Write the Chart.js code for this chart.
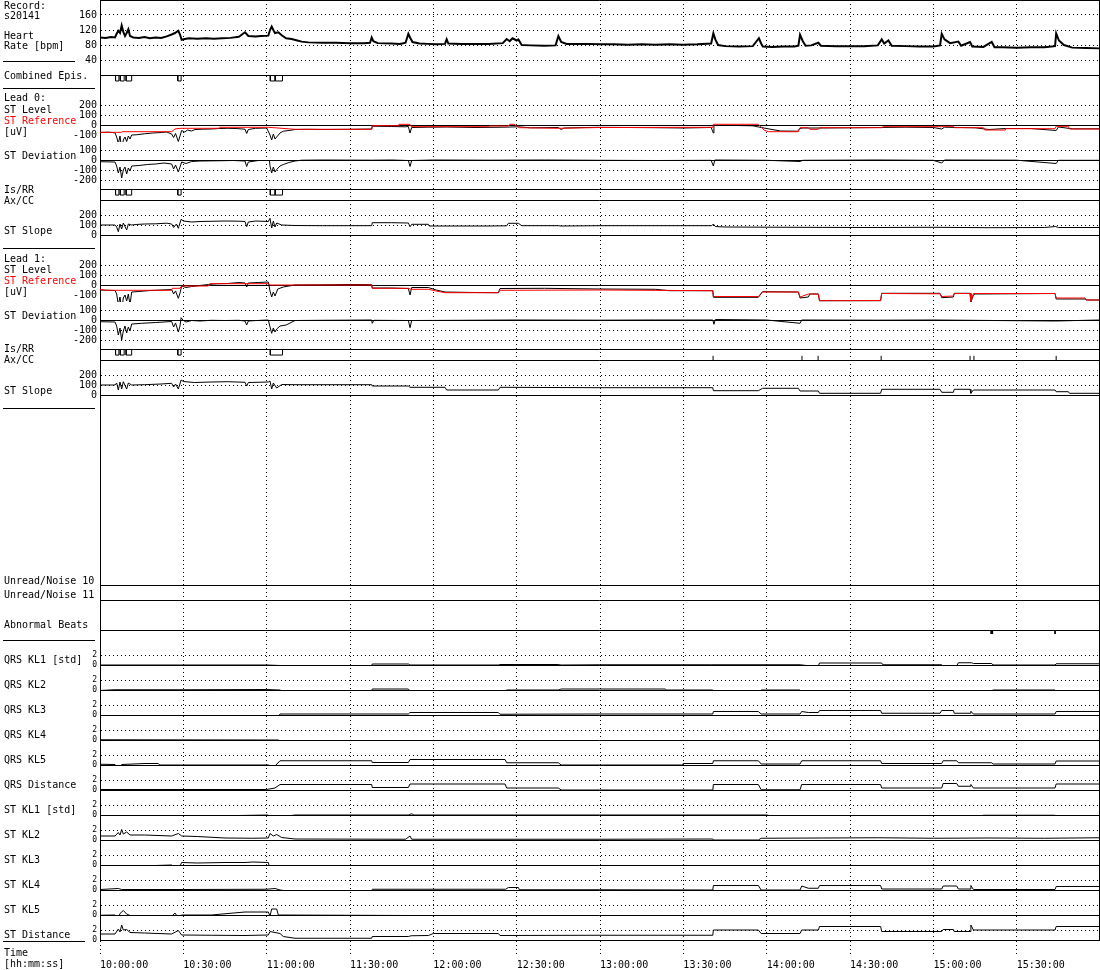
<!DOCTYPE html>
<html>
<head>
<meta charset="utf-8">
<script src="https://cdn.jsdelivr.net/npm/chart.js@4.4.1/dist/chart.umd.min.js"></script>
<style>
body { margin: 0; background: #fff; }
#wrap { position: relative; width: 1100px; height: 970px; font-family: 'DejaVu Sans Mono', monospace; font-size: 10px; }
#c { position: absolute; left: 0; top: 0; }
.lbl { position: absolute; left: 4px; line-height: 10px; white-space: pre; color: #000; }
.sep { position: absolute; height: 1px; background: #000; }
</style>
</head>
<body>
<div id="wrap"><canvas id="c" width="1100" height="970"></canvas></div>
<script>
// time is minutes after 10:00:00
const timeTicks = [0, 30, 60, 90, 120, 150, 180, 210, 240, 270, 300, 330];
const timeLabels = ['10:00:00', '10:30:00', '11:00:00', '11:30:00', '12:00:00', '12:30:00',
  '13:00:00', '13:30:00', '14:00:00', '14:30:00', '15:00:00', '15:30:00'];
const hrTicks = [40, 80, 120, 160];
const stLevelTicks = [200, 100, 0, -100];
const stDevTicks = [100, 0, -100, -200];
const slopeTicks = [200, 100, 0];
const klTicks = [2, 0];

const heartRate = [[0,100],[2,99],[4,101],[5.4,100],[6,110],[6.6,118],[7.2,112],[7.8,132],[8.4,115],[9,104],[9.6,112],[10.2,122],[10.8,104],[12,100],[14,99],[16,101],[18,98],[20,100],[22,99],[24,103],[25.8,108],[27,112],[28.2,118],[28.8,108],[29.4,94],[30.5,96],[32,98],[35,97],[38,98],[41,97],[44,98],[47,99],[50,102],[52.2,114],[53.4,104],[56,103],[58,104],[60.6,105],[61.2,120],[61.8,129],[62.4,120],[63,112],[64.2,114],[65.4,106],[67,98],[69,96],[71,92],[72.6,89],[75,87],[80,86],[85,86],[90,85],[95,85],[97.2,86],[97.8,100],[98.4,90],[100,85],[105,84],[108,83],[110,86],[111,110],[111.6,100],[112.5,88],[115,84],[118,83],[121,82],[124.2,83],[124.8,95],[125.4,84],[130,83],[135,83],[140,83],[145,85],[146.4,96],[147.5,90],[148.5,98],[150,92],[150.6,95],[151.8,80],[155,79],[160,78],[164,79],[165,104],[166,88],[168,83],[172,83],[176,83],[180,82],
  [185,82],[190,81],[195,82],[200,81],[205,82],[210,81],[215,82],[220,84],[220.8,111],[221.5,95],[222.5,80],[225,77],[230,76],[235,77],[237.2,98],[238,84],[238.6,76],[242,75],[246,76],[250,76],[251.4,78],[252,107],[253,90],[254,78],[256,79],[258.6,86],[259.5,78],[265,77],[270,77],[275,77],[280,79],[281.4,95],[282.3,84],[283.8,92],[285,78],[290,77],[295,76],[300,76],[302.4,79],[303,110],[304,95],[306,85],[309,89],[310,78],[313.2,88],[314,76],[318,75],[321,88],[322,74],[325,74],[330,73],[335,74],[340,74],[343.8,77],[344.2,111],[345.2,92],[347,80],[350,73],[355,72],[359.8,71]];

const combinedEpis = [[5.6,6.8],[7.3,8.7],[9.4,11.4],[28,29.2],[61.3,63],[63.1,65.7]];
const isrrLead0 = [[5.6,6.8],[7.3,8.7],[9.4,11.4],[28,29.2],[61.3,63],[63.1,65.7]];
const isrrLead1 = [[5.6,6.8],[7.3,8.7],[9.4,11.4],[28,29.2],[61.3,65.7]];
const axccLead1 = [220.7, 252.7, 258.5, 281.2, 313.2, 314.6, 344.2];
const abnormalBeats = [320.8, 321.3, 343.8];

const stRef0 = [[0,-73],[7.8,-73],[8,-67],[25.8,-67],[27,-40],[28.8,-33],[42.6,-33],[43,-23],[60.6,-23],[70.2,-43],[97.8,-43],[98,-7],[107.4,-7],[107.6,7],[111.6,7],[112,-17],[139.8,-17],[140,-10],[147,-10],[147.5,7],[149,7],[151,-27],[165,-33],[180,-25],
  [220.6,-23],[220.8,7],[237,7],[239,-50],[240.6,-67],[251.4,-67],[252,-27],[255,-27],[255.5,-43],[258.6,-43],[259,-27],[281.4,-27],[282,-17],[303,-17],[303.5,-13],[307.2,-13],[307.5,-27],[318,-27],[318.5,-50],[325.8,-50],[326,-37],[343.8,-37],[344.2,-13],[348.6,-13],[349,-40],[359.8,-40]];
const stLevel0 = [[0,-75],[3,-72],[5.4,-78],[6,-120],[6.6,-185],[7.2,-110],[7.8,-245],[8.4,-150],[9,-120],[9.6,-165],[10.2,-110],[10.8,-140],[11.4,-100],[13,-98],[16,-88],[19,-80],[22,-75],[24,-70],[25.8,-90],[26.5,-125],[27.2,-85],[28.2,-165],[28.8,-110],[29.4,-55],[30.5,-70],[31.5,-50],[33,-60],[34.2,-45],[37,-42],[40,-40],[43,-35],[46,-33],[49,-35],[52.2,-42],[52.8,-85],[53.4,-45],[56,-33],[60,-30],[61.2,-100],[61.8,-150],[62.4,-90],[63,-140],[63.6,-120],[64.8,-80],[66,-62],[68,-55],[70.2,-45],[75,-43],[80,-45],[90,-43],[97.8,-40],[98,-12],[105,-15],[110,-18],[111,-15],[111.6,-80],[112.2,-25],[118,-22],[125,-20],[135,-25],[145,-22],[150.6,-18],[155,-28],[165,-25],[166,-45],[167,-30],[175,-25],[180,-23],
  [190,-25],[200,-27],[210,-30],[220,-25],[220.8,-80],[221,-5],[225,-3],[235,-8],[238,-25],[245,-60],[251,-62],[252,-35],[253,-30],[260,-30],[270,-28],[280,-25],[290,-22],[300,-25],[303,-40],[304,-22],[315,-28],[320,-45],[326,-35],[335,-35],[344.2,-55],[345,-20],[350,-38],[359.8,-38]];
const stDev0 = [[0,-17],[5.4,-20],[6,-60],[6.6,-130],[7.2,-70],[7.8,-180],[8.4,-100],[9,-70],[9.6,-140],[10.2,-80],[10.8,-110],[11.4,-60],[14,-55],[17,-45],[20,-40],[23,-30],[25.8,-40],[26.5,-90],[27.2,-50],[28.2,-120],[28.8,-70],[29.4,-20],[31,-35],[33,-15],[36,-10],[42,-8],[48,-5],[52.2,-10],[52.8,-65],[53.4,-20],[57,-5],[61,-5],[61.2,-60],[61.8,-130],[62.4,-70],[63,-120],[63.6,-95],[64.8,-60],[66,-45],[68,-25],[70.2,-10],[72.6,-2],[80,0],[97.8,-2],[105,0],[111,-5],[111.6,-65],[112.2,-5],[120,0],[140,-2],[160,0],[180,-3],
  [200,-5],[220,-3],[220.8,-60],[221.3,0],[240,-3],[252,-15],[253,-3],[280,0],[300,-3],[303,-30],[304,0],[330,-2],[344.2,-35],[345,-3],[359.8,-3]];
const stSlope0 = [[0,100],[5.4,100],[6,80],[6.6,33],[7.2,110],[7.8,60],[8.4,120],[9.6,50],[10.2,110],[11.4,100],[13,105],[16,110],[20,112],[24,118],[25.8,110],[26.5,75],[27.5,110],[28.2,67],[29.2,157],[30,140],[33,130],[36,135],[40,137],[45,140],[50,138],[52.2,135],[52.8,83],[53.4,130],[56,140],[60.6,135],[61.2,167],[61.8,70],[62.4,140],[63,80],[63.6,120],[65.4,100],[70.2,95],[80,93],[97.8,93],[98,123],[105,123],[111,120],[111.6,83],[112.2,107],[118.2,107],[118.5,90],[140,90],[146.4,92],[147,117],[150.6,117],[151.8,93],[165,93],[166,90],[180,93],
  [220.2,93],[220.8,110],[221.5,85],[225,80],[240,78],[260,76],[280,75],[300,77],[320,73],[340,75],[344,85],[345,75],[359.8,75]];

const stRef1 = [[0,-43],[2,-53],[25.8,-53],[26,-33],[28.8,-33],[29.4,-10],[39,-10],[39.5,13],[60.6,13],[61.2,0],[97.8,0],[98,-33],[111,-33],[112,-43],[118.2,-43],[121,-60],[124.2,-77],[143.4,-77],[144,-53],[180,-50],
  [220.6,-57],[220.8,-115],[237,-115],[238.5,-70],[251.4,-70],[252,-120],[253,-110],[255,-90],[258.6,-90],[259,-157],[281,-155],[281.4,-85],[302.4,-88],[303,-115],[307.2,-110],[307.5,-85],[313.2,-85],[313.5,-165],[314.4,-85],[343.8,-85],[344.2,-130],[354.6,-130],[355,-150],[359.8,-150]];
const stLevel1 = [[0,-50],[5.4,-55],[6,-90],[6.6,-200],[7.2,-120],[7.8,-250],[8.4,-130],[9,-100],[9.6,-160],[10.2,-90],[10.8,-200],[11.4,-70],[14,-65],[18,-55],[22,-50],[25.8,-45],[26.5,-90],[27.2,-60],[28.2,-133],[28.8,-80],[29.4,-10],[31,-25],[33,-15],[36,-5],[39,5],[42,12],[46,15],[50,25],[52.2,20],[52.8,-20],[53.4,20],[57,25],[60.6,30],[61.2,-60],[61.8,-120],[62.4,-70],[63,-110],[64,-40],[66,-20],[68,-10],[70.2,0],[80,2],[90,5],[97.8,3],[98,-30],[105,-30],[111,-35],[111.6,-100],[112.2,-25],[118.2,-25],[121,-50],[124.2,-70],[135,-75],[143.4,-77],[144,-35],[160,-33],[180,-40],
  [200,-43],[205,-57],[220.6,-57],[220.8,-123],[237,-123],[238.5,-67],[251.4,-70],[252,-130],[255,-120],[255.5,-90],[258.6,-90],[259,-157],[281,-157],[281.4,-83],[302.4,-83],[303,-127],[307.2,-120],[307.5,-83],[313.2,-83],[313.5,-173],[314.4,-100],[315,-90],[343.8,-85],[344.2,-140],[354.6,-140],[355,-150],[359.8,-150]];
const stDev1 = [[0,-17],[5.4,-20],[6,-60],[6.6,-150],[7.2,-80],[7.8,-200],[8.4,-110],[9,-60],[9.6,-130],[10.2,-70],[10.8,-110],[11.4,-40],[15,-33],[20,-25],[25.8,-15],[26.5,-70],[27.2,-30],[28.2,-120],[28.8,-60],[29.2,23],[30,-5],[31,-20],[33,-5],[36,-10],[40,-3],[45,-5],[50,-3],[52.2,-10],[52.8,-50],[53.4,-10],[58,-3],[60.6,0],[61.2,-70],[61.8,-133],[62.4,-80],[63,-120],[63.6,-90],[64.8,-60],[67,-50],[70.2,-5],[80,-3],[97.8,0],[98,-33],[98.6,-3],[111,-5],[111.6,-77],[112.2,-5],[130,-3],[150,0],[180,-2],
  [200,0],[220.6,0],[221,-43],[221.5,5],[240,0],[252,-33],[252.6,0],[280,-2],[300,0],[344,-10],[359.8,0]];
const stSlope1 = [[0,100],[5.4,100],[6,120],[6.6,50],[7.2,130],[7.8,60],[8.4,133],[9.6,60],[10.2,120],[11.4,100],[16,103],[22,110],[25.8,117],[26.5,80],[27.2,110],[28.2,60],[29.2,150],[30,135],[34,125],[40,130],[46,133],[52.2,127],[52.8,90],[53.4,125],[60.6,130],[61.2,140],[61.8,60],[62.4,120],[63.6,70],[65.4,105],[70.2,103],[97.8,103],[98,90],[111,90],[111.6,77],[124.2,77],[124.8,50],[143.4,50],[144,77],[180,73],
  [220.6,73],[220.8,43],[237,43],[238.5,67],[251.4,67],[252,40],[258.6,40],[259,17],[281,17],[281.4,57],[302.4,57],[303,27],[307.2,27],[307.5,57],[313.2,57],[313.5,17],[314.4,50],[343.8,50],[344.2,33],[348.6,33],[349,17],[359.8,17]];

const qrsKL1 = [[0,0],[60,0],[64.8,-0.1],[65.4,-0.25],[97.8,-0.25],[98,0.2],[111,0.2],[111.6,0],[143.4,0],[144,0.1],[165,0.1],[166,0],[180,0.05],[220,0.05],[252,0.05],[255,-0.15],[258.6,-0.15],[259,0.4],[281.4,0.4],[281.8,0.05],[303,0.05],[303.5,-0.35],[308.4,-0.2],[309,0.45],[313.8,0.45],[314.4,0.3],[321,0.3],[321.5,0],[343.8,0],[344.2,0.25],[359.8,0.25]];
const qrsKL2 = [[0,-0.1],[5,0.05],[30,0.05],[60,0.1],[64.8,0],[65.4,-0.2],[97.8,-0.2],[98,0.2],[111,0.2],[111.6,-0.2],[145.8,-0.2],[146.4,0],[165,0],[166,0.2],[180,0.2],[203.4,0.2],[204,0],[220.6,0],[220.8,-0.5],[237,-0.5],[238,0],[252,0],[252.6,-0.5],[281,-0.5],[281.4,-0.15],[303,-0.15],[303.5,-0.7],[308.4,-0.6],[309,-0.3],[313.8,-0.2],[321,-0.15],[321.5,0],[343.8,0],[344.2,-0.3],[359.8,-0.3]];
const qrsKL3 = [[0,-0.15],[30,-0.15],[60,-0.1],[63,-0.5],[64.2,-0.4],[64.8,0.2],[111,0.2],[111.6,0.5],[143.4,0.5],[144,0.15],[180,0.2],[220.6,0.2],[220.8,0.7],[237,0.7],[238,0.2],[252,0.2],[252.6,0.7],[255,0.5],[258.6,0.5],[259,0.9],[281,0.9],[281.4,0.35],[302.4,0.35],[303,0.9],[307.2,0.9],[307.5,0.35],[313.2,0.35],[313.5,0.75],[314.4,0.2],[343.8,0.2],[344.2,0.7],[359.8,0.7]];
const qrsKL4 = [[0,0.05],[64.2,0],[64.8,-0.3],[111,-0.3],[111.6,-0.5],[145.8,-0.5],[146.4,-0.25],[180,-0.2],[220.6,-0.15],[220.8,-0.45],[237,-0.45],[238,-0.25],[252,-0.25],[252.6,-0.5],[258.6,-0.5],[259,-0.65],[281,-0.65],[281.4,-0.15],[303,-0.15],[303.5,-0.65],[309,-0.65],[309.5,-0.15],[343.8,-0.15],[344.2,-0.45],[359.8,-0.45]];
const qrsKL5 = [[0,0.15],[5.4,0.1],[6.6,-0.7],[7.8,0.1],[16.2,0.3],[21,0.3],[21.5,0],[60.6,0],[61.8,-0.35],[63,-0.2],[64.8,0.85],[97.8,0.85],[98,0.5],[111,0.5],[111.6,1.1],[145.8,1.1],[146.4,0.45],[165,0.45],[166,0],[209.4,0],[210,0.3],[220.6,0.3],[220.8,0.85],[237,0.85],[238,0.2],[252,0.2],[252.6,0.85],[281,0.85],[281.4,0.3],[303,0.3],[303.5,0.85],[308.4,0.85],[309,0.45],[321,0.45],[321.5,0.2],[343.8,0.2],[344.2,0.8],[359.8,0.8]];
const qrsDistance = [[0,0.1],[60,0.1],[63,0.4],[64.8,1.1],[97.8,1.1],[98,0.5],[111,0.5],[111.6,1.2],[145.8,1.2],[146.4,0.4],[165,0.4],[166,0],[220.6,0],[220.8,1.1],[237,1.1],[238,0.05],[252,0.05],[252.6,1.1],[281,1.1],[281.4,0.4],[303,0.4],[303.5,1.3],[308.4,1.3],[309,0.75],[313.2,0.75],[313.5,1.1],[314.4,0.4],[343.8,0.4],[344.2,1.2],[359.8,1.2]];
const stKL1 = [[0,-0.8],[5.4,-0.8],[6.6,-1.4],[7.2,-0.7],[7.8,-1.9],[8.4,-1.0],[9.6,-1.3],[10.8,-0.8],[16,-0.8],[22,-0.6],[28.2,-0.5],[29.4,-0.35],[40,-0.2],[50,-0.1],[60.6,0],[61.2,-0.6],[62.4,-0.9],[63.6,-0.5],[66,-0.3],[70.2,0],[111,0],[112.2,0.25],[113,0],[240,0],[241,-0.1],[269.4,-0.1],[270,-0.4],[298.2,-0.4],[299,-0.1],[313.8,-0.1],[314.4,-0.25],[317.4,-0.25],[318,-0.05],[343.8,-0.05],[344.2,-0.25],[359.8,-0.2]];
const stKL2 = [[0,0.8],[5.4,0.8],[6.6,1.5],[7.2,1.0],[7.8,2.1],[8.4,1.2],[9.6,1.6],[10.8,1.0],[16,1.0],[25.8,0.8],[28.2,1.3],[29.4,0.8],[35,0.7],[45,0.4],[55,0.35],[60.6,0.4],[61.2,1.3],[62.4,0.8],[63.6,1.1],[65.4,0.5],[70.2,0.2],[110,0.15],[111.6,0.8],[112.2,0.15],[180,0.15],[220.6,0.2],[220.8,0],[237,0],[238,0.35],[260,0.4],[280,0.45],[300,0.35],[320,0.4],[340,0.35],[359.8,0.45]];
const stKL3 = [[0,-0.1],[5.4,-0.1],[6.6,-1.0],[7.2,-0.3],[7.8,-1.3],[8.4,-0.5],[9.6,-0.9],[11,-0.2],[20,-0.1],[25.8,0],[27,-0.5],[28.2,-0.9],[29.4,0.5],[35,0.4],[45,0.5],[52.2,0.5],[55,0.6],[60.6,0.5],[61.2,-0.8],[62.4,-0.3],[63.6,-0.6],[65.4,-0.2],[70.2,-0.1],[97.8,-0.1],[98,-0.4],[118.2,-0.4],[120,-0.9],[143.4,-0.9],[144,-0.5],[180,-0.6],[200,-0.65],[220.6,-0.7],[220.8,-1.6],[237,-1.6],[238,-0.9],[252,-0.9],[252.6,-1.3],[255,-1.5],[258.6,-1.5],[259,-2.1],[281,-2.1],[281.4,-0.9],[303,-0.9],[303.5,-1.6],[307.2,-1.4],[307.5,-1.1],[313.2,-1.1],[313.5,-2.1],[314.4,-0.9],[343.8,-0.9],[344.2,-1.9],[359.8,-1.9]];
const stKL4 = [[0,0.1],[6.6,0.3],[7.8,0.1],[30,0.1],[60,0.15],[63,0.3],[64.8,0],[70.2,-0.45],[97.8,-0.45],[98,0.15],[146,0.15],[147,0.5],[150.6,0.5],[151,0.05],[180,0.05],[220.6,0],[220.8,0.9],[237,0.9],[238,0],[252,0],[252.6,0.8],[255,0.35],[258.6,0.35],[259,0.9],[281,0.9],[281.4,0.2],[303,0.2],[303.5,0.8],[308.4,0.8],[309,0.2],[313.2,0.2],[313.5,0.9],[314.4,0.1],[343.8,0.1],[344.2,0.7],[359.8,0.7]];
const stKL5 = [[0,-0.05],[5.4,0],[6.6,-0.6],[7.2,0.3],[8.4,0.9],[9.6,0.2],[11.4,-0.25],[25.8,-0.25],[27,0.4],[28.2,-0.6],[29.4,0],[40,0],[52.2,0.6],[60.6,0.6],[61.2,-0.2],[61.8,1.2],[63.6,1.2],[64.2,0],[111,-0.1],[112,-0.45],[220.6,-0.45],[220.8,-0.8],[237,-0.8],[238,-1.1],[252,-1.1],[252.6,-0.8],[258.6,-0.8],[259,-1.1],[343.8,-1.1],[344.2,-1.3],[359.8,-1.3]];
const stDistance = [[0,1.2],[5.4,1.2],[6.6,2.2],[7.2,1.6],[7.8,3.0],[8.4,2.0],[9.6,2.1],[10.8,1.5],[16,1.4],[25.8,1.2],[28.2,1.9],[29.4,1.0],[40,0.95],[52.2,0.9],[60.6,1.0],[61.2,1.7],[63,1.5],[64.8,1.3],[66,0.7],[70.2,0.35],[97.8,0.35],[98,0.7],[111,0.7],[112,0.85],[118.2,0.9],[120,1.3],[143.4,1.3],[144,0.9],[180,0.95],[220.6,0.95],[220.8,2.0],[237,2.0],[238,1.3],[252,1.3],[252.6,2.0],[258.6,2.0],[259,2.7],[281,2.7],[281.4,1.7],[303,1.7],[303.5,2.1],[307.2,2.1],[307.5,1.7],[313.2,1.7],[313.5,3.0],[314.4,2.0],[343.8,2.0],[344.2,2.7],[359.8,2.7]];

// left column texts: [text, centre y, colour]
const sideLabels = [
  ['Record:', 6], ['s20141', 16], ['Heart', 36], ['Rate [bpm]', 46], ['Combined Epis.', 76],
  ['Lead 0:', 98], ['ST Level', 110], ['ST Reference', 121, '#f00'], ['[uV]', 132], ['ST Deviation', 156],
  ['Is/RR', 190], ['Ax/CC', 201], ['ST Slope', 231],
  ['Lead 1:', 259], ['ST Level', 270], ['ST Reference', 281, '#f00'], ['[uV]', 292], ['ST Deviation', 316],
  ['Is/RR', 349], ['Ax/CC', 360], ['ST Slope', 391],
  ['Unread/Noise 10', 581], ['Unread/Noise 11', 595], ['Abnormal Beats', 625],
  ['QRS KL1 [std]', 660], ['QRS KL2', 685], ['QRS KL3', 710], ['QRS KL4', 735], ['QRS KL5', 760], ['QRS Distance', 785],
  ['ST KL1 [std]', 810], ['ST KL2', 835], ['ST KL3', 860], ['ST KL4', 885], ['ST KL5', 910], ['ST Distance', 935],
  ['Time', 953], ['[hh:mm:ss]', 964]
];
const sideRules = [[61, 3, 75], [88, 3, 95], [248, 3, 95], [408, 3, 95], [640, 3, 95], [941, 3, 85]];

const wrap = document.getElementById('wrap');
sideLabels.forEach(([t, y, col]) => {
  const d = document.createElement('div');
  d.className = 'lbl';
  d.textContent = t;
  d.style.top = (y - 5) + 'px';
  if (col) d.style.color = col;
  wrap.appendChild(d);
});
sideRules.forEach(([y, x1, x2]) => {
  const d = document.createElement('div');
  d.className = 'sep';
  d.style.top = y + 'px';
  d.style.left = x1 + 'px';
  d.style.width = (x2 - x1) + 'px';
  wrap.appendChild(d);
});

// panel rows from top to bottom, h = share of the plot height
const rows = [
  {id: 'hr', h: 75, min: 0, max: 200, ticks: hrTicks, top: true},
  {id: 'comb', h: 13, min: 0, max: 1, rev: true, top: true},
  {id: 'lev0', h: 54, min: -170, max: 370, ticks: stLevelTicks, skip: [-100], zero: true},
  {id: 'dev0', h: 47, min: -290, max: 180, ticks: stDevTicks, zero: true},
  {id: 'isrr0', h: 11, min: 0, max: 1, rev: true, top: true},
  {id: 'slope0', h: 35, min: 0, max: 350, ticks: slopeTicks, top: true, zero: true},
  {id: 'lev1', h: 67, min: -170, max: 500, ticks: stLevelTicks, skip: [-100], zero: true},
  {id: 'dev1', h: 47, min: -290, max: 180, ticks: stDevTicks, zero: true},
  {id: 'isrr1', h: 11, min: 0, max: 1, rev: true, top: true},
  {id: 'slope1', h: 35, min: 0, max: 350, ticks: slopeTicks, top: true, zero: true},
  {id: 'blank', h: 190, min: 0, max: 1, top: true},
  {id: 'noise10', h: 15, min: 0, max: 1, top: true},
  {id: 'noise11', h: 30, min: 0, max: 1, top: true},
  {id: 'abn', h: 10, min: 0, max: 1, rev: true, top: true}
];
['qkl1', 'qkl2', 'qkl3', 'qkl4', 'qkl5', 'qdist', 'skl1', 'skl2', 'skl3', 'skl4', 'skl5', 'sdist'].forEach(id => {
  rows.push({id, h: 25, min: 0, max: 5, ticks: klTicks, small: true, zero: true});
});

const fontFamily = 'DejaVu Sans Mono';
const pts = a => a.map(([x, y]) => ({x, y}));
const boxes = (list, h) => list.flatMap(([s, e]) => [{x: s, y: 0}, {x: s, y: h}, {x: e, y: h}, {x: e, y: 0}, {x: e, y: null}]);
const marks = (list, y0, y1) => list.flatMap(t => [{x: t, y: y0}, {x: t, y: y1}, {x: t, y: null}]);

function line(data, yAxisID, extra) {
  return Object.assign({
    data, yAxisID, xAxisID: 'x',
    borderColor: '#000', borderWidth: 1, pointRadius: 0, fill: false, tension: 0, order: 1
  }, extra || {});
}

const datasets = [
  line(pts(heartRate), 'hr', {borderWidth: 2}),
  line(boxes(combinedEpis, 0.46), 'comb'),
  line(pts(stRef0), 'lev0', {borderColor: '#f00', order: 0}),
  line(pts(stLevel0), 'lev0'),
  line(pts(stDev0), 'dev0'),
  line(boxes(isrrLead0, 0.55), 'isrr0'),
  line(pts(stSlope0), 'slope0'),
  line(pts(stRef1), 'lev1', {borderColor: '#f00', order: 0}),
  line(pts(stLevel1), 'lev1'),
  line(pts(stDev1), 'dev1'),
  line(boxes(isrrLead1, 0.55), 'isrr1'),
  line(marks(axccLead1, 1, 0.62), 'isrr1'),
  line(pts(stSlope1), 'slope1'),
  line(marks(abnormalBeats, 0, 0.4), 'abn'),
  line(pts(qrsKL1), 'qkl1'),
  line(pts(qrsKL2), 'qkl2'),
  line(pts(qrsKL3), 'qkl3'),
  line(pts(qrsKL4), 'qkl4'),
  line(pts(qrsKL5), 'qkl5'),
  line(pts(qrsDistance), 'qdist'),
  line(pts(stKL1), 'skl1'),
  line(pts(stKL2), 'skl2'),
  line(pts(stKL3), 'skl3'),
  line(pts(stKL4), 'skl4'),
  line(pts(stKL5), 'skl5'),
  line(pts(stDistance), 'sdist')
];

const axisWidth = 30;
const scales = {
  x: {
    type: 'linear', position: 'bottom', min: 0, max: 359.8,
    afterBuildTicks: s => { s.ticks = timeTicks.map(v => ({value: v})); },
    afterFit: s => { s.height = 30; s.paddingLeft = 0; s.paddingRight = 0; },
    ticks: {
      autoSkip: false, maxRotation: 0, align: 'start', padding: 2, color: '#000',
      font: {family: fontFamily, size: 10},
      callback: (v, i) => timeLabels[i]
    },
    grid: {color: '#000', lineWidth: 1, drawTicks: true, tickLength: 17, tickColor: '#000', tickBorderDash: [1, 3]},
    border: {display: true, color: '#000', width: 1, dash: [1, 3]}
  }
};
rows.forEach((r, i) => {
  const s = {
    type: 'linear', position: 'left', stack: 'rows', stackWeight: r.h, weight: rows.length - i,
    min: r.min, max: r.max, reverse: !!r.rev, offset: false,
    afterFit: sc => { sc.width = axisWidth; sc.paddingTop = 0; sc.paddingBottom = 0; },
    ticks: {display: !!r.ticks, autoSkip: false, color: '#000', padding: 3, font: {family: fontFamily, size: r.small ? 8 : 10}},
    grid: {
      display: !!r.ticks, drawTicks: false, lineWidth: 1,
      color: c => (c.tick && r.skip && r.skip.includes(c.tick.value)) ? 'rgba(0,0,0,0)' : '#000'
    },
    border: {display: true, color: '#000', width: 1, dash: [1, 3]}
  };
  if (r.ticks) s.afterBuildTicks = sc => { sc.ticks = r.ticks.map(v => ({value: v})); };
  scales[r.id] = s;
});

// solid panel separators, zero lines and right frame
const solidLines = {
  id: 'solidLines',
  beforeDatasetsDraw(chart) {
    const {ctx, chartArea: a, scales: sc} = chart;
    ctx.save();
    ctx.strokeStyle = '#000';
    ctx.lineWidth = 1;
    ctx.setLineDash([]);
    ctx.beginPath();
    const hline = y => {
      const p = Math.round(y) + 0.5;
      ctx.moveTo(a.left, p);
      ctx.lineTo(a.right, p);
    };
    rows.forEach(r => {
      if (r.top) hline(sc[r.id].top);
      if (r.zero) hline(sc[r.id].getPixelForValue(0));
    });
    const xr = Math.round(a.right) - 0.5;
    ctx.moveTo(xr, a.top);
    ctx.lineTo(xr, a.bottom);
    ctx.stroke();
    ctx.restore();
  }
};

new Chart(document.getElementById('c').getContext('2d'), {
  type: 'line',
  data: {datasets},
  options: {
    animation: false,
    responsive: false,
    events: [],
    spanGaps: false,
    layout: {padding: {left: 100 - axisWidth, right: 0.5, top: 0, bottom: 0}, autoPadding: false},
    plugins: {legend: {display: false}, tooltip: {enabled: false}},
    scales
  },
  plugins: [solidLines]
});
</script>
</body>
</html>
